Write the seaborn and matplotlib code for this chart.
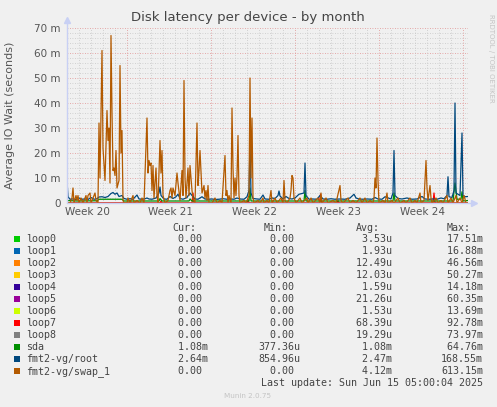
import matplotlib
matplotlib.use("Agg")
import matplotlib.pyplot as plt
import seaborn as sns
import pandas as pd
from matplotlib.patches import Rectangle

# ___ Data (hours since start of the 33 day window, values in milliseconds) ___

devices = ["loop0", "loop1", "loop2", "loop3", "loop4", "loop5", "loop6",
           "loop7", "loop8", "sda", "fmt2-vg/root", "fmt2-vg/swap_1"]
colors = ["#00CC00", "#0066B3", "#FF8000", "#FFCC00", "#330099", "#990099",
          "#CCFF00", "#FF0000", "#808080", "#008F00", "#00487D", "#B35A00"]

cur_vals = ["0.00"] * 9 + ["1.08m", "2.64m", "0.00"]
min_vals = ["0.00"] * 9 + ["377.36u", "854.96u", "0.00"]
avg_vals = ["3.53u", "1.93u", "12.49u", "12.03u", "1.59u", "21.26u", "1.53u",
            "68.39u", "19.29u", "1.08m", "2.47m", "4.12m"]
max_vals = ["17.51m", "16.88m", "46.56m", "50.27m", "14.18m", "60.35m", "13.69m",
            "92.78m", "73.97m", "64.76m", "168.55m", "613.15m"]

week_labels = ["Week 20", "Week 21", "Week 22", "Week 23", "Week 24"]
week_label_hours = [40, 208, 376, 544, 712]
week_start_hours = [120, 288, 456, 624, 792]

swap_hours = [0, 2, 6, 10, 12, 14, 18, 20, 22, 24, 28, 32, 38, 40, 42, 46, 48, 52, 56, 58,
              62, 64, 66, 70, 72, 76, 80, 82, 84, 86, 88, 90, 92, 94, 96, 98, 100, 104, 106, 108,
              110, 112, 114, 120, 122, 126, 132, 134, 140, 146, 150, 154, 160, 162, 164, 166, 168, 170, 172, 174,
              178, 180, 182, 186, 188, 190, 192, 196, 202, 206, 208, 210, 212, 216, 220, 222, 226, 230, 232, 234,
              236, 238, 242, 244, 246, 250, 252, 256, 260, 262, 264, 266, 270, 274, 276, 278, 280, 282, 284, 290,
              296, 300, 306, 310, 316, 318, 320, 322, 324, 328, 330, 332, 334, 336, 338, 340, 342, 344, 346, 354,
              358, 364, 366, 368, 370, 372, 374, 382, 386, 392, 394, 400, 404, 408, 410, 416, 420, 428, 432, 434,
              436, 440, 446, 448, 450, 452, 454, 458, 466, 470, 480, 482, 488, 492, 502, 506, 508, 510, 518, 522,
              532, 538, 546, 548, 552, 562, 566, 572, 578, 586, 590, 596, 600, 606, 612, 614, 616, 618, 620, 622,
              624, 632, 636, 640, 642, 650, 654, 662, 666, 674, 678, 686, 690, 696, 700, 706, 708, 714, 718, 720,
              722, 726, 728, 730, 738, 742, 748, 752, 760, 762, 768, 772, 778, 780, 786, 790, 794, 798, 802]
swap_vals = [1, 0, 0, 2, 6, 0, 3, 1, 3, 0, 2, 0, 3, 0, 3, 4, 0, 2, 4, 1,
             0, 32, 10, 61, 22, 9, 37, 25, 30, 8, 67, 36, 13, 14, 11, 21, 6, 9, 55, 20,
             29, 1, 0, 0, 2, 0, 3, 0, 1, 0, 2, 0, 34, 12, 17, 15, 16, 5, 15, 2,
             14, 3, 0, 25, 12, 21, 3, 0, 1, 5, 6, 2, 6, 3, 12, 8, 1, 13, 3, 49,
             10, 2, 14, 3, 15, 5, 2, 0, 32, 7, 13, 21, 4, 7, 2, 5, 1, 7, 0, 0,
             2, 0, 1, 0, 19, 3, 5, 0, 3, 0, 38, 14, 2, 10, 3, 11, 27, 3, 0, 1,
             0, 3, 50, 10, 34, 2, 0, 1, 0, 2, 0, 1, 0, 5, 0, 2, 0, 2, 0, 9,
             1, 0, 2, 5, 11, 10, 2, 0, 2, 0, 2, 0, 2, 0, 2, 0, 4, 0, 2, 0,
             1, 0, 7, 1, 0, 2, 0, 1, 0, 2, 0, 2, 0, 1, 0, 2, 10, 6, 26, 9,
             0, 1, 0, 4, 0, 1, 0, 2, 0, 1, 0, 2, 0, 1, 0, 4, 0, 1, 17, 6,
             1, 7, 2, 0, 2, 0, 1, 0, 3, 0, 2, 0, 3, 0, 2, 0, 3, 0, 0]

root_hours = [0, 2, 6, 12, 18, 24, 30, 36, 42, 48, 54, 60, 64, 70, 76, 82, 88, 92, 96, 100,
              104, 110, 114, 120, 126, 132, 140, 144, 150, 156, 160, 164, 170, 178, 184, 186, 188, 194, 200, 206,
              212, 218, 222, 226, 232, 240, 246, 250, 256, 262, 270, 276, 282, 290, 296, 304, 312, 320, 326, 334,
              340, 346, 354, 360, 364, 366, 368, 372, 380, 386, 392, 396, 404, 410, 416, 422, 424, 426, 432, 438,
              444, 450, 456, 464, 474, 476, 478, 484, 490, 500, 506, 512, 520, 528, 536, 546, 556, 566, 574, 578,
              584, 592, 600, 610, 616, 622, 630, 636, 648, 652, 654, 656, 662, 670, 680, 690, 700, 710, 716, 724,
              732, 740, 748, 754, 760, 762, 764, 770, 774, 776, 778, 786, 790, 792, 796, 802]
root_vals = [9, 2.5, 1.5, 1.6, 1.4, 2.0, 1.5, 1.6, 1.4, 2.2, 1.5, 1.7, 2.4, 2.5, 2.2, 2.6, 3.8, 4.2, 3.5, 4.0,
             2.6, 3.0, 1.8, 1.5, 1.7, 1.5, 3.2, 1.6, 1.5, 1.7, 2.0, 1.6, 1.5, 2.0, 4.0, 6.4, 3.0, 1.6, 1.5, 2.6,
             1.8, 2.5, 3.5, 1.8, 1.5, 2.2, 4.0, 3.0, 1.6, 1.5, 2.5, 1.6, 1.5, 1.6, 1.4, 1.5, 1.7, 1.5, 1.6, 1.5,
             2.0, 1.6, 1.5, 2.5, 5.0, 24, 4.0, 1.8, 1.6, 1.5, 3.2, 1.6, 1.5, 2.0, 1.8, 3.0, 4.8, 2.8, 1.6, 2.6,
             1.8, 1.6, 2.0, 3.5, 4.0, 16, 3.0, 1.5, 1.6, 1.5, 3.0, 1.6, 1.5, 1.7, 1.5, 1.6, 1.5, 2.0, 3.5, 2.0,
             1.6, 1.5, 1.6, 1.5, 2.2, 1.6, 1.5, 2.5, 1.6, 4.0, 21, 3.0, 1.8, 1.6, 2.0, 1.5, 1.6, 2.6, 1.6, 1.5,
             1.6, 1.5, 2.0, 1.7, 3.0, 10.5, 2.5, 2.2, 5.0, 40, 4.0, 3.0, 28, 3.0, 2.5, 2.6]

sda_hours = [0, 20, 60, 64, 110, 114, 184, 186, 190, 244, 246, 250, 364, 366, 368, 474, 476, 478,
             652, 654, 656, 772, 776, 780, 788, 790, 792, 802]
sda_vals = [1.0, 0.8, 0.9, 1.5, 1.5, 0.8, 0.8, 1.8, 0.8, 0.8, 1.6, 0.8, 0.8, 6.0, 0.8, 0.8, 5.0, 0.8,
            0.8, 4.0, 0.8, 0.8, 8.0, 1.5, 1.5, 4.5, 0.8, 1.0]

loop7_hours = [0, 124, 126, 128, 186, 188, 190, 250, 252, 254, 360, 362, 364,
               505, 507, 509, 540, 542, 544, 732, 734, 736, 802]
loop7_vals = [0, 0, 1, 0, 0, 0.8, 0, 0, 4, 0, 0, 1.5, 0,
              0, 3.5, 0, 0, 1, 0, 0, 4, 0, 0]

idle_hours = [0, 802]
idle_vals = [0, 0]

# ___ Long table for seaborn ___

series = {name: (idle_hours, idle_vals) for name in devices}
series["loop7"] = (loop7_hours, loop7_vals)
series["sda"] = (sda_hours, sda_vals)
series["fmt2-vg/root"] = (root_hours, root_vals)
series["fmt2-vg/swap_1"] = (swap_hours, swap_vals)

df = pd.concat([pd.DataFrame({"hours": h, "wait": v, "device": name})
                for name, (h, v) in series.items()], ignore_index=True)

# ___ Figure ___

W, H = 497, 407
BG = "#F0F0F0"
TXT = "#555555"

sns.set_theme(style="white")
plt.rcParams["font.family"] = ["DejaVu Sans"]

fig = plt.figure(figsize=(W / 100, H / 100), dpi=100, facecolor=BG)


def fx(x):
    return x / W


def fy(y):
    return 1 - y / H


ax = fig.add_axes([fx(67), fy(203), 401 / W, 175 / H])
ax.set_facecolor(BG)

sns.lineplot(data=df, x="hours", y="wait", hue="device", hue_order=devices,
             palette=dict(zip(devices, colors)), estimator=None, sort=True,
             linewidth=0.9, legend=False, ax=ax, zorder=3)

ax.set_xlim(0, 802)
ax.set_ylim(0, 70)

# grid: gray dotted minor, red dotted major
for y in range(2, 71, 2):
    major = y % 10 == 0
    ax.axhline(y, color="#E09090" if major else "#C6C6C6", lw=0.6,
               ls=(0, (1, 2)), zorder=1)
for h in range(24, 802, 24):
    major = h in week_start_hours
    ax.axvline(h, color="#E09090" if major else "#C6C6C6", lw=0.6,
               ls=(0, (1, 2)), zorder=1)

for s in ax.spines.values():
    s.set_visible(False)

axis_col = "#C8D0F4"
ax.plot([0, 0], [0, 1.04], color=axis_col, lw=1.0, transform=ax.transAxes, clip_on=False, zorder=4)
ax.plot([0, 1.012], [0, 0], color=axis_col, lw=1.0, transform=ax.transAxes, clip_on=False, zorder=4)
ax.plot([0], [1.045], marker="^", ms=4, color=axis_col, transform=ax.transAxes, clip_on=False)
ax.plot([1.015], [0], marker=">", ms=4, color=axis_col, transform=ax.transAxes, clip_on=False)

ax.set_yticks(range(0, 71, 10))
ax.set_yticklabels(["0"] + [f"{v} m" for v in range(10, 71, 10)])
ax.set_xticks(week_label_hours)
ax.set_xticklabels(week_labels)
ax.tick_params(axis="y", length=0, pad=4.5, labelsize=7.5, labelcolor=TXT)
ax.tick_params(axis="x", length=0, pad=3, labelsize=7.5, labelcolor=TXT)
ax.set_xlabel("")
ax.set_ylabel("")

# ___ Titles ___

fig.text(fx(248), fy(18), "Disk latency per device - by month", ha="center", va="center",
         fontsize=9.5, color="#444444")
fig.text(fx(10), fy(115), "Average IO Wait (seconds)", rotation=90, ha="center", va="center",
         fontsize=8, color=TXT)
fig.text(fx(491), fy(58), "RRDTOOL / TOBI OETIKER", rotation=270, ha="center", va="center",
         fontsize=5, color="#C4C4C4")

# ___ Legend table ___

MONO = "DejaVu Sans Mono"
MS = 7.2
LEG = "#444444"


def fmt(s):
    if s[-1] in "um":
        return f"{s[:-1]:>6}{s[-1]}"
    return f"{s:>6}"


for x, head in zip([172, 263.5, 355.5, 447], ["Cur:", "Min:", "Avg:", "Max:"]):
    fig.text(fx(x), fy(227.7), head, family=MONO, fontsize=MS, color=LEG, va="center")

for i, name in enumerate(devices):
    y = 239.3 + 12 * i
    fig.patches.append(Rectangle((fx(14), fy(y + 3)), 6 / W, 6 / H, transform=fig.transFigure,
                                 facecolor=colors[i], edgecolor="none"))
    fig.text(fx(26.5), fy(y), name, family=MONO, fontsize=MS, color=LEG, va="center")
    for x, vals in zip([166.3, 258.3, 350, 441], [cur_vals, min_vals, avg_vals, max_vals]):
        fig.text(fx(x), fy(y), fmt(vals[i]), family=MONO, fontsize=MS, color=LEG, va="center")

fig.text(fx(483), fy(383.5), "Last update: Sun Jun 15 05:00:04 2025", family=MONO, fontsize=MS,
         color=LEG, va="center", ha="right")
fig.text(fx(248), fy(396), "Munin 2.0.75", fontsize=5.2, color="#C4C4C4", ha="center", va="center")

fig.savefig("out.png", dpi=100, facecolor=BG)
